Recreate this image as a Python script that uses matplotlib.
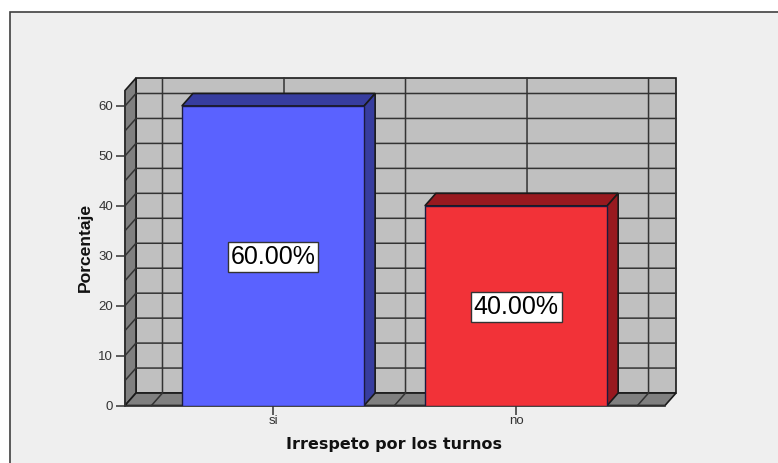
import matplotlib
matplotlib.use("Agg")
import matplotlib.pyplot as plt
from matplotlib.patches import Polygon, Rectangle

categories = ["si", "no"]
percentages = [60.0, 40.0]
value_labels = ["60.00%", "40.00%"]
y_ticks = [0, 10, 20, 30, 40, 50, 60]
grid_y = [5, 10, 15, 20, 25, 30, 35, 40, 45, 50, 55, 60]
grid_x = [-0.5, 0, 0.5, 1, 1.5]
bar_colors = ["#5a62ff", "#f23238"]
top_colors = ["#373d9f", "#98191f"]

W, H = 778, 463
x0, x1 = -0.609, 1.613
y_top = 63.1
dx = 11 / 243.0   # depth of the 3d box in data units
dy = 2.5
bar_w = 0.75

fig = plt.figure(figsize=(W / 100, H / 100), dpi=100, facecolor="white")
fig.add_artist(Rectangle((10 / W, -0.1), 780 / W, 1.1 - 12.5 / H, transform=fig.transFigure,
                         facecolor="#efefef", edgecolor="#404040", lw=1.2, zorder=-1))

ax = fig.add_axes([125 / W, (H - 405.5) / H, 540 / W, 315 / H])
ax.set_xlim(x0, x1)
ax.set_ylim(0, y_top)
ax.patch.set_visible(False)
for s in ["top", "right"]:
    ax.spines[s].set_visible(False)
ax.spines["left"].set_color("#333333")
ax.spines["bottom"].set_color("#333333")
ax.spines["left"].set_linewidth(1.2)
ax.spines["bottom"].set_linewidth(1.2)


def poly(pts, fc, z=1, lw=1.2):
    ax.add_patch(Polygon(pts, closed=True, facecolor=fc, edgecolor="#1a1a1a", lw=lw,
                         clip_on=False, zorder=z))


# back wall, side wall, floor
poly([(x0 + dx, dy), (x1 + dx, dy), (x1 + dx, y_top + dy), (x0 + dx, y_top + dy)], "#c0c0c0")
poly([(x0, 0), (x0 + dx, dy), (x0 + dx, y_top + dy), (x0, y_top)], "#808080")
poly([(x0, 0), (x1, 0), (x1 + dx, dy), (x0 + dx, dy)], "#808080")

for v in grid_y:
    ax.plot([x0, x0 + dx, x1 + dx], [v, v + dy, v + dy], color="#333333", lw=1.1,
            clip_on=False, zorder=2)
for v in grid_x:
    ax.plot([v, v + dx, v + dx], [0, dy, y_top + dy], color="#333333", lw=1.1,
            clip_on=False, zorder=2)

# bars with their top and side faces
positions = range(len(categories))
ax.bar(positions, percentages, width=bar_w, color=bar_colors, edgecolor="#1a1a40", lw=1, zorder=5)
for i in positions:
    left, right, h = i - bar_w / 2, i + bar_w / 2, percentages[i]
    poly([(left, h), (right, h), (right + dx, h + dy), (left + dx, h + dy)], top_colors[i], 4)
    poly([(right, 0), (right + dx, dy), (right + dx, h + dy), (right, h)], top_colors[i], 4)
    ax.text(i, h / 2 - 0.3, value_labels[i], ha="center", va="center", fontsize=18, zorder=6,
            family="Liberation Sans", color="black",
            bbox=dict(boxstyle="square,pad=0.12", facecolor="white", edgecolor="#333333", lw=1))

ax.set_xticks(list(positions))
ax.set_xticklabels(categories)
ax.set_yticks(y_ticks)
ax.tick_params(axis="both", length=6.5, width=1.1, color="#333333", labelsize=9.5,
               labelcolor="#333333", pad=2)
ax.tick_params(axis="x", pad=0.5)
for t in ax.get_xticklabels() + ax.get_yticklabels():
    t.set_family("Liberation Sans")

fig.text(394 / W, 1 - 445 / H, "Irrespeto por los turnos", ha="center", va="center",
         fontsize=11.5, fontweight="bold", color="#111111", family="DejaVu Sans")
fig.text(85 / W, 1 - 247 / H, "Porcentaje", ha="center", va="center", rotation=90,
         fontsize=12.6, fontweight="bold", color="#111111", family="Liberation Sans")

fig.savefig("out.png", dpi=100)
